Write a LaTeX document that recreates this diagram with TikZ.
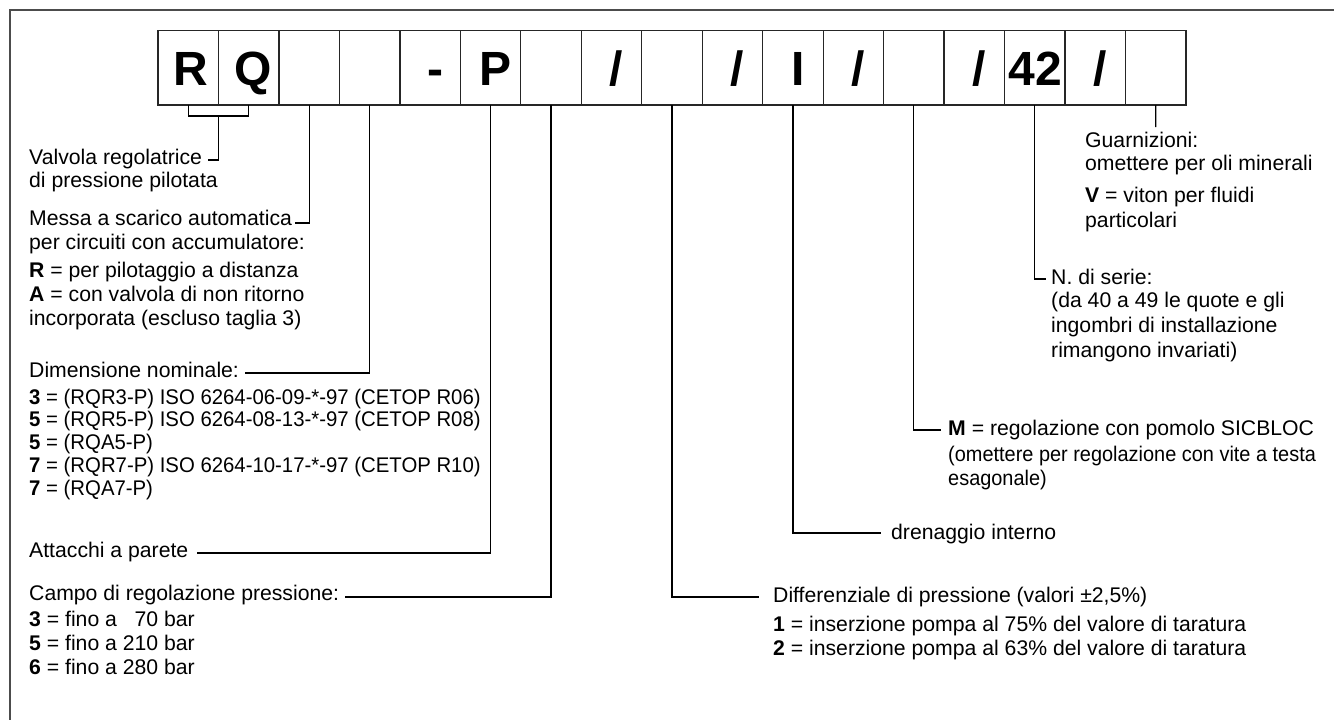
\documentclass[tikz,border=0pt]{standalone}
\usepackage{fontspec}
\setmainfont{Liberation Sans}
\newfontfamily\isofont[FakeStretch=0.96]{Liberation Sans}
\newfontfamily\narrowfont[FakeStretch=0.94]{Liberation Sans}
\begin{document}
\begin{tikzpicture}[x=1pt,y=-1pt]
\tikzset{
 cell/.style={draw=black!85, line width=1.3pt, minimum width=60.47pt, minimum height=74.5pt, inner sep=0pt, outer sep=0pt},
 big/.style={font=\fontsize{48}{48}\selectfont\bfseries, anchor=base, inner sep=0pt},
 txt/.style={font=\fontsize{21.2}{24}\selectfont, anchor=base west, inner sep=0pt},
 isotxt/.style={txt, font=\fontsize{21.2}{24}\selectfont\isofont},
 narrowtxt/.style={txt, font=\fontsize{21.2}{24}\selectfont\narrowfont},
 conn/.style={draw=black, line width=1.2pt},
 frameline/.style={draw=black!70, line width=2pt}
}
\useasboundingbox (0,0) rectangle (1334,720);
\draw[frameline] (10,720) -- (10,10) -- (1334,10);
% code cells
\foreach \i in {1,...,17}{
  \node[cell] (c\i) at ({158+60.47*(\i-0.5)},67.75) {};
}
% code letters
\node[big] (kR)  at (191,85) {R};
\node[big] (kQ)  at (253,85) {Q};
\node[big] (kdash) at (435,85) {-};
\node[big] (kP)  at (496,85) {P};
\node[big] (ks1) at (616,85) {/};
\node[big] (ks2) at (737,85) {/};
\node[big] (kI)  at (798,85) {I};
\node[big] (ks3) at (858,85) {/};
\node[big] (ks4) at (979,85) {/};
\node[big] (k42) at (1035,85) {42};
\node[big] (ks5) at (1100,85) {/};
% left texts
\node[txt] (a1) at (29,164) {Valvola regolatrice};
\node[txt] (a2) at (29,187) {di pressione pilotata};
\node[txt] (b1) at (29,225) {Messa a scarico automatica};
\node[txt] (b2) at (29,249) {per circuiti con accumulatore:};
\node[txt] (b3) at (29,277) {\textbf{R} = per pilotaggio a distanza};
\node[txt] (b4) at (29,301) {\textbf{A} = con valvola di non ritorno};
\node[txt] (b5) at (29,325) {incorporata (escluso taglia 3)};
\node[txt] (d1) at (29,377) {Dimensione nominale:};
\node[isotxt] (d2) at (29,404) {\textbf{3} = (RQR3-P) ISO 6264-06-09-*-97 (CETOP R06)};
\node[isotxt] (d3) at (29,426.5) {\textbf{5} = (RQR5-P) ISO 6264-08-13-*-97 (CETOP R08)};
\node[isotxt] (d4) at (29,449) {\textbf{5} = (RQA5-P)};
\node[isotxt] (d5) at (29,472) {\textbf{7} = (RQR7-P) ISO 6264-10-17-*-97 (CETOP R10)};
\node[isotxt] (d6) at (29,495) {\textbf{7} = (RQA7-P)};
\node[txt] (e1) at (29,557) {Attacchi a parete};
\node[txt] (f1) at (29,600) {Campo di regolazione pressione:};
\node[txt] (f2) at (29,626) {\textbf{3} = fino a \phantom{2}70 bar};
\node[txt] (f3) at (29,650) {\textbf{5} = fino a 210 bar};
\node[txt] (f4) at (29,674) {\textbf{6} = fino a 280 bar};
% right texts
\node[txt] (g1) at (1085,147) {Guarnizioni:};
\node[txt] (g2) at (1085,170) {omettere per oli minerali};
\node[txt] (g3) at (1085,202) {\textbf{V} = viton per fluidi};
\node[txt] (g4) at (1085,227) {particolari};
\node[txt] (n1) at (1051,284) {N. di serie:};
\node[txt] (n2) at (1051,307) {(da 40 a 49 le quote e gli};
\node[txt] (n3) at (1051,332) {ingombri di installazione};
\node[txt] (n4) at (1051,357) {rimangono invariati)};
\node[txt] (m1) at (948,435) {\textbf{M} = regolazione con pomolo SICBLOC};
\node[narrowtxt] (m2) at (948,461) {(omettere per regolazione con vite a testa};
\node[narrowtxt] (m3) at (948,485) {esagonale)};
\node[txt] (i1) at (891,539) {drenaggio interno};
\node[txt] (p1) at (773,602) {Differenziale di pressione (valori ±2,5\%)};
\node[txt] (p2) at (773,631) {\textbf{1} = inserzione pompa al 75\% del valore di taratura};
\node[txt] (p3) at (773,655) {\textbf{2} = inserzione pompa al 63\% del valore di taratura};
% connector end points
\coordinate (brk) at (218.5,116);
\coordinate (hA) at (208,160);
\coordinate (hB) at (295,223);
\coordinate (hC) at (245,373);
\coordinate (hD) at (197,553);
\coordinate (hE) at (345,597);
\coordinate (hF) at (759,597);
\coordinate (hG) at (881,533);
\coordinate (hH) at (941,430);
\coordinate (hI) at (1046,279);
\coordinate (hJ) at (1155.8,127);
% connectors
\draw[conn] (c1.south) |- (brk) -| (c2.south);
\draw[conn] (brk) |- (hA);
\draw[conn] (c3.south) |- (hB);
\draw[conn] (c4.south) |- (hC);
\draw[conn] (c6.south) |- (hD);
\draw[conn] (c7.south) |- (hE);
\draw[conn] (c9.south) |- (hF);
\draw[conn] (c11.south) |- (hG);
\draw[conn] (c13.south) |- (hH);
\draw[conn] (c15.south) |- (hI);
\draw[conn] (c17.south) -- (hJ);
\end{tikzpicture}
\end{document}
